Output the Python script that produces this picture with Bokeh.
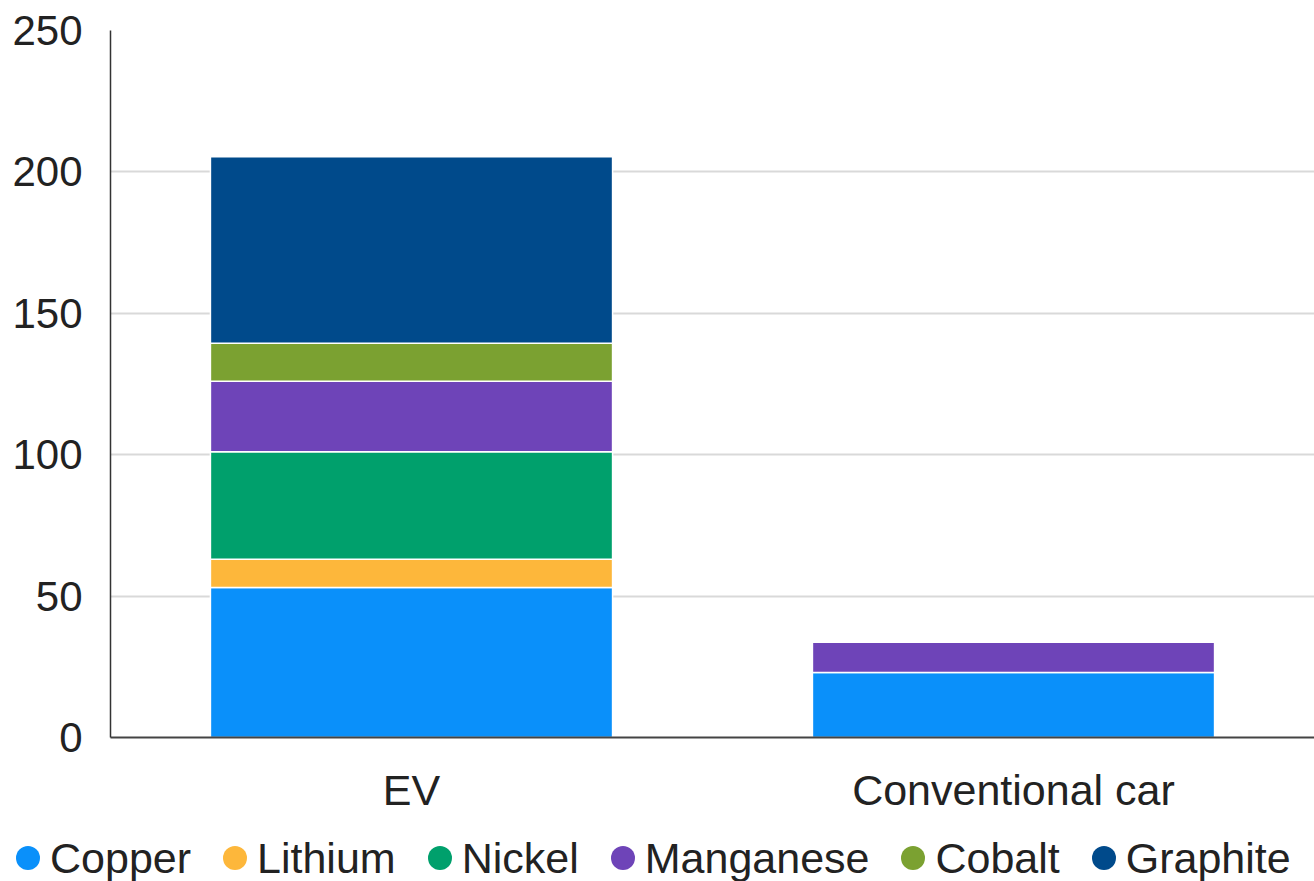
from bokeh.plotting import figure
from bokeh.layouts import column
from bokeh.models import FactorRange, Range1d, FixedTicker, ColumnDataSource, Div
from bokeh.embed import file_html
from bokeh.resources import INLINE

cars = ["EV", "Conventional car"]
minerals = ["Copper", "Lithium", "Nickel", "Manganese", "Cobalt", "Graphite"]
copper = [53, 23]
lithium = [10, 0]
nickel = [38, 0]
manganese = [25, 10.7]
cobalt = [13.4, 0]
graphite = [66, 0]
series = [copper, lithium, nickel, manganese, cobalt, graphite]
colors = ["#0A90FA", "#FDB73B", "#00A06C", "#6E44B8", "#7BA131", "#004A8B"]
y_ticks = [0, 50, 100, 150, 200, 250]

FONT = "Liberation Sans"
TXT = "#222222"

p = figure(frame_width=1204, frame_height=707, x_range=FactorRange(*cars), y_range=Range1d(0, 250),
           output_backend="svg", toolbar_location=None,
           min_border_left=110, min_border_right=0, min_border_top=30, min_border_bottom=96)
p.outline_line_color = None
p.background_fill_color = "white"

bottoms = [0.0] * len(cars)
for name, vals, col in zip(minerals, series, colors):
    tops = [b + v for b, v in zip(bottoms, vals)]
    src = ColumnDataSource(dict(x=cars, bottom=list(bottoms), top=tops,
                                la=[1.0 if v > 0 else 0.0 for v in vals]))
    p.vbar(x="x", bottom="bottom", top="top", width=0.668, source=src,
           fill_color=col, line_color="white", line_width=1.5, line_alpha="la")
    bottoms = tops

p.yaxis.ticker = FixedTicker(ticks=y_ticks)
p.yaxis.major_label_text_font = FONT
p.yaxis.major_label_text_font_size = "42px"
p.yaxis.major_label_text_color = TXT
p.yaxis.major_label_standoff = 28
p.yaxis.major_tick_out = 0
p.yaxis.major_tick_line_color = None
p.yaxis.minor_tick_line_color = None
p.yaxis.axis_line_color = "#333333"
p.yaxis.axis_line_width = 1.5

p.xaxis.major_label_text_font = FONT
p.xaxis.major_label_text_font_size = "43px"
p.xaxis.major_label_text_color = TXT
p.xaxis.major_label_standoff = 28
p.xaxis.major_tick_out = 0
p.xaxis.major_tick_line_color = None
p.xaxis.axis_line_color = "#444444"
p.xaxis.axis_line_width = 2

p.xgrid.grid_line_color = None
p.ygrid.grid_line_color = "#d9d9d9"
p.ygrid.grid_line_width = 2

# legend strip (HTML, so it can start left of the plot frame)
item_html = []
for name, col in zip(minerals, colors):
    item_html.append(
        f'<span style="display:inline-flex;align-items:center;margin-right:32px;white-space:nowrap;">'
        f'<span style="display:inline-block;width:24px;height:24px;border-radius:50%;'
        f'background:{col};margin-right:10px;"></span>{name}</span>'
    )
legend_html = (
    f'<div style="display:flex;align-items:center;height:48px;padding-left:16px;padding-top:2px;'
    f'box-sizing:border-box;font-family:\'{FONT}\';font-size:43px;color:{TXT};line-height:1;'
    f'white-space:nowrap;">' + "".join(item_html) + '</div>'
)
lg = Div(text=legend_html, width=1314, height=48, margin=0)

layout = column(p, lg, spacing=0)
open("out.html", "w").write(file_html(layout, INLINE))
